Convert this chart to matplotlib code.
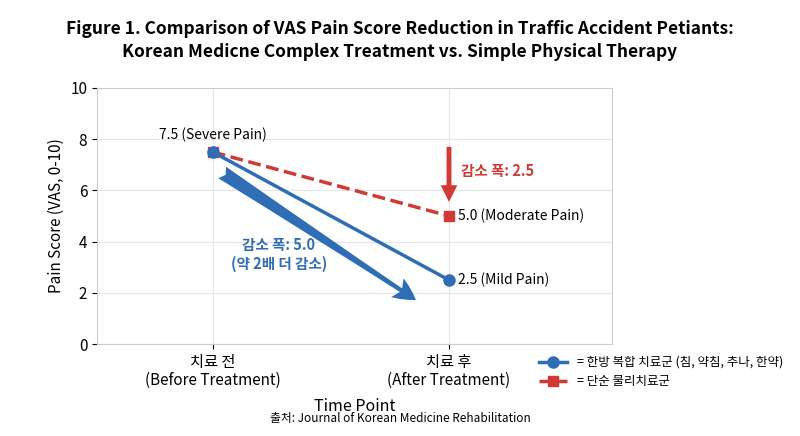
import matplotlib.pyplot as plt

plt.rcParams['font.family'] = ['Noto Sans CJK KR', 'DejaVu Sans']

categories = ['치료 전\n(Before Treatment)', '치료 후\n(After Treatment)']
complex_tx = [7.5, 2.5]
physical_tx = [7.5, 5.0]
blue = '#2f6db5'
red = '#d03a35'

fig = plt.figure(figsize=(8, 4.36), dpi=100)
ax = fig.add_axes([97/800, 1-344/436, 515/800, 256/436])

x = [0, 1]
ax.plot(x, physical_tx, '--', color=red, lw=2.5, marker='s', ms=7, zorder=3,
        label='= 단순 물리치료군')
ax.plot(x, complex_tx, '-', color=blue, lw=2.5, marker='o', ms=8, zorder=4,
        label='= 한방 복합 치료군 (침, 약침, 추나, 한약)')

ax.set_xlim(-0.49, 1.69)
ax.set_ylim(0, 10)
ax.set_xticks(x)
ax.set_xticklabels(categories, fontsize=8.5, linespacing=1.1)
ax.set_yticks(range(0, 11, 2))
ax.tick_params(labelsize=11)
ax.set_ylabel('Pain Score (VAS, 0-10)', fontsize=11)
ax.set_xlabel('Time Point', fontsize=11.5)
ax.xaxis.set_label_coords(0.5, -0.21)
ax.grid(True, color='#e6e6e6', lw=0.8)
for s in ax.spines.values():
    s.set_color('#cccccc')

ax.text(0, 7.9, f'{complex_tx[0]} (Severe Pain)', ha='center', va='bottom', fontsize=10)
ax.text(1.04, physical_tx[1], f'{physical_tx[1]} (Moderate Pain)', va='center', fontsize=10)
ax.text(1.04, complex_tx[1], f'{complex_tx[1]} (Mild Pain)', va='center', fontsize=10)

ax.annotate('', xy=(0.86, 1.72), xytext=(0.04, 6.7),
            arrowprops=dict(arrowstyle='fancy,head_length=1.6,head_width=1.6,tail_width=1.0',
                            color=blue, lw=0, shrinkA=0, shrinkB=0))
ax.text(0.28, 3.5, '감소 폭: 5.0\n(약 2배 더 감소)', color=blue, fontsize=10.5,
        ha='center', va='center', fontweight='bold')
ax.annotate('', xy=(1.0, 5.55), xytext=(1.0, 7.7),
            arrowprops=dict(arrowstyle='simple,head_width=1.2,head_length=1.2,tail_width=0.35',
                            color=red, lw=0, shrinkA=0, shrinkB=0))
ax.text(1.05, 6.75, '감소 폭: 2.5', color=red, fontsize=10.5, va='center', fontweight='bold')

h, l = ax.get_legend_handles_labels()
fig.legend(h[::-1], l[::-1], loc='center left', bbox_to_anchor=(528/800, 1-372/436),
           frameon=False, fontsize=9, handlelength=2.2, labelspacing=0.5)

fig.text(0.5, 0.955, 'Figure 1. Comparison of VAS Pain Score Reduction in Traffic Accident Petiants:\n'
         'Korean Medicne Complex Treatment vs. Simple Physical Therapy',
         ha='center', va='top', fontsize=12.5, fontweight='bold', linespacing=1.4)
fig.text(0.5, 1-418/436, '출처: Journal of Korean Medicine Rehabilitation', ha='center',
         va='center', fontsize=8.5)

fig.savefig('out.png', dpi=100)
